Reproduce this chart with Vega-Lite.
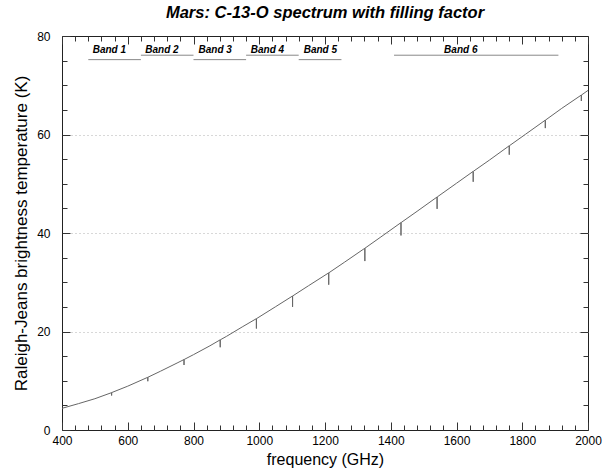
{
  "$schema": "https://vega.github.io/schema/vega-lite/v6.json",
  "width": 526,
  "height": 394,
  "autosize": {"type": "none"},
  "padding": {"left": 62, "top": 36, "right": 22, "bottom": 40},
  "background": "white",
  "title": {
    "text": "Mars: C-13-O spectrum with filling factor",
    "font": "Liberation Sans",
    "fontSize": 16.5,
    "fontWeight": "bold",
    "fontStyle": "italic",
    "color": "black",
    "anchor": "middle",
    "offset": 9
  },
  "datasets": {
    "spectrum": [
      {"f": 400, "T": 4.4},
      {"f": 450, "T": 5.35},
      {"f": 500, "T": 6.35},
      {"f": 550.7, "T": 7.58},
      {"f": 550.93, "T": 7.0},
      {"f": 551.2, "T": 7.6},
      {"f": 600, "T": 8.9},
      {"f": 660.8, "T": 10.7},
      {"f": 661.07, "T": 9.9},
      {"f": 661.3, "T": 10.71},
      {"f": 700, "T": 11.95},
      {"f": 750, "T": 13.6},
      {"f": 770.9, "T": 14.3},
      {"f": 771.18, "T": 13.2},
      {"f": 771.4, "T": 14.31},
      {"f": 800, "T": 15.3},
      {"f": 850, "T": 17.1},
      {"f": 881.0, "T": 18.3},
      {"f": 881.27, "T": 16.8},
      {"f": 881.5, "T": 18.31},
      {"f": 900, "T": 19.0},
      {"f": 950, "T": 21.0},
      {"f": 991.1, "T": 22.6},
      {"f": 991.33, "T": 20.6},
      {"f": 991.6, "T": 22.61},
      {"f": 1050, "T": 25.05},
      {"f": 1101.1, "T": 27.2},
      {"f": 1101.35, "T": 25.0},
      {"f": 1101.6, "T": 27.21},
      {"f": 1150, "T": 29.3},
      {"f": 1211.1, "T": 31.9},
      {"f": 1211.33, "T": 29.5},
      {"f": 1211.6, "T": 31.91},
      {"f": 1260, "T": 34.1},
      {"f": 1321.0, "T": 36.9},
      {"f": 1321.27, "T": 34.3},
      {"f": 1321.5, "T": 36.91},
      {"f": 1370, "T": 39.2},
      {"f": 1430.9, "T": 42.1},
      {"f": 1431.15, "T": 39.5},
      {"f": 1431.4, "T": 42.11},
      {"f": 1480, "T": 44.4},
      {"f": 1540.7, "T": 47.3},
      {"f": 1540.99, "T": 44.9},
      {"f": 1541.2, "T": 47.31},
      {"f": 1600, "T": 50.1},
      {"f": 1650.5, "T": 52.5},
      {"f": 1650.77, "T": 50.4},
      {"f": 1651.0, "T": 52.51},
      {"f": 1700, "T": 54.8},
      {"f": 1760.2, "T": 57.7},
      {"f": 1760.49, "T": 55.9},
      {"f": 1760.7, "T": 57.71},
      {"f": 1810, "T": 60.05},
      {"f": 1869.9, "T": 62.9},
      {"f": 1870.15, "T": 61.3},
      {"f": 1870.4, "T": 62.91},
      {"f": 1920, "T": 65.3},
      {"f": 1979.5, "T": 68.0},
      {"f": 1979.75, "T": 66.8},
      {"f": 1980.0, "T": 68.01},
      {"f": 2000, "T": 68.95}
    ],
    "bands": [
      {"name": "Band 1", "start": 480, "end": 640, "lineT": 75.2, "labelF": 544, "labelT": 77.2},
      {"name": "Band 2", "start": 640, "end": 800, "lineT": 76.1, "labelF": 704, "labelT": 77.2},
      {"name": "Band 3", "start": 800, "end": 960, "lineT": 75.2, "labelF": 866, "labelT": 77.2},
      {"name": "Band 4", "start": 960, "end": 1120, "lineT": 76.1, "labelF": 1025, "labelT": 77.2},
      {"name": "Band 5", "start": 1120, "end": 1250, "lineT": 75.2, "labelF": 1186, "labelT": 77.2},
      {"name": "Band 6", "start": 1410, "end": 1910, "lineT": 76.1, "labelF": 1613, "labelT": 77.2}
    ]
  },
  "resolve": {"axis": {"x": "independent", "y": "independent"}},
  "layer": [
    {
      "data": {"name": "spectrum"},
      "mark": {"type": "line", "color": "#666666", "strokeWidth": 1, "clip": true},
      "encoding": {
        "x": {
          "field": "f", "type": "quantitative",
          "scale": {"domain": [400, 2000], "nice": false, "zero": false},
          "axis": {
            "orient": "bottom", "values": [400, 600, 800, 1000, 1200, 1400, 1600, 1800, 2000],
            "format": "d",
            "tickSize": -8, "labelPadding": 13, "title": "frequency (GHz)",
            "titleFontSize": 16, "titlePadding": 5, "labelFlush": false
          }
        },
        "y": {
          "field": "T", "type": "quantitative",
          "scale": {"domain": [0, 80], "nice": false, "zero": true},
          "axis": {
            "orient": "left", "values": [0, 20, 40, 60, 80],
            "format": "d",
            "tickSize": -8, "labelPadding": 20, "title": "Raleigh-Jeans brightness temperature (K)",
            "titleFontSize": 17, "titlePadding": 6, "labelFlush": false
          }
        }
      }
    },
    {
      "data": {"name": "spectrum"},
      "mark": {"type": "point", "opacity": 0},
      "encoding": {
        "x": {
          "field": "f", "type": "quantitative",
          "axis": {
            "orient": "bottom",
            "values": [440,480,520,560,640,680,720,760,840,880,920,960,1040,1080,1120,1160,1240,1280,1320,1360,1440,1480,1520,1560,1640,1680,1720,1760,1840,1880,1920,1960],
            "tickSize": -5, "labels": false, "title": null
          }
        },
        "y": {
          "field": "T", "type": "quantitative",
          "axis": {
            "orient": "left", "values": [5,10,15,25,30,35,45,50,55,65,70,75],
            "tickSize": -5, "labels": false, "title": null
          }
        }
      }
    },
    {
      "data": {"name": "spectrum"},
      "mark": {"type": "point", "opacity": 0},
      "encoding": {
        "x": {
          "field": "f", "type": "quantitative",
          "axis": {
            "orient": "top", "values": [400, 600, 800, 1000, 1200, 1400, 1600, 1800, 2000],
            "tickSize": -8, "labels": false, "title": null
          }
        },
        "y": {
          "field": "T", "type": "quantitative",
          "axis": {
            "orient": "right", "values": [20, 40, 60],
            "tickSize": -8, "labels": false, "title": null,
            "grid": true, "gridDash": [1, 3], "gridColor": "#b0b0b0", "gridWidth": 1
          }
        }
      }
    },
    {
      "data": {"name": "spectrum"},
      "mark": {"type": "point", "opacity": 0},
      "encoding": {
        "x": {
          "field": "f", "type": "quantitative",
          "axis": {
            "orient": "top",
            "values": [440,480,520,560,640,680,720,760,840,880,920,960,1040,1080,1120,1160,1240,1280,1320,1360,1440,1480,1520,1560,1640,1680,1720,1760,1840,1880,1920,1960],
            "tickSize": -5, "labels": false, "title": null
          }
        },
        "y": {
          "field": "T", "type": "quantitative",
          "axis": {
            "orient": "right", "values": [5,10,15,25,30,35,45,50,55,65,70,75],
            "tickSize": -5, "labels": false, "title": null
          }
        }
      }
    },
    {
      "data": {"name": "bands"},
      "mark": {"type": "rule", "color": "#888888", "strokeWidth": 1},
      "encoding": {
        "x": {"field": "start", "type": "quantitative", "axis": null},
        "x2": {"field": "end"},
        "y": {"field": "lineT", "type": "quantitative", "axis": null}
      }
    },
    {
      "data": {"name": "bands"},
      "mark": {"type": "text", "font": "Liberation Sans", "fontSize": 10, "fontWeight": "bold", "fontStyle": "italic", "color": "black", "align": "center", "baseline": "middle"},
      "encoding": {
        "x": {"field": "labelF", "type": "quantitative", "axis": null},
        "y": {"field": "labelT", "type": "quantitative", "axis": null},
        "text": {"field": "name", "type": "nominal"}
      }
    }
  ],
  "config": {
    "view": {"stroke": "#222222", "strokeWidth": 1},
    "axis": {
      "domain": false,
      "grid": false,
      "ticks": true,
      "tickColor": "#333333",
      "tickWidth": 1,
      "labelFont": "Liberation Sans",
      "labelFontSize": 12,
      "labelColor": "black",
      "titleFont": "Liberation Sans",
      "titleFontWeight": "normal",
      "titleColor": "black"
    }
  }
}
